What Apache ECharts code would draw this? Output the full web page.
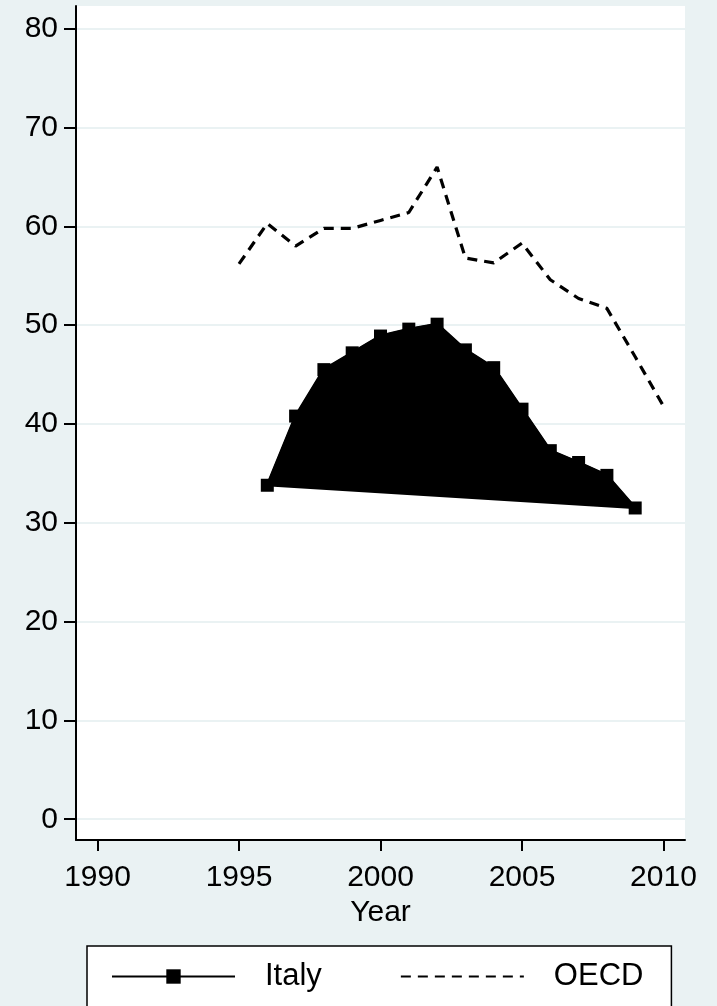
<!DOCTYPE html>
<html>
<head>
<meta charset="utf-8">
<script src="https://cdn.jsdelivr.net/npm/echarts@6/dist/echarts.min.js"></script>
<style>
  html, body { margin: 0; padding: 0; background: #eaf2f3; }
  #chart { width: 717px; height: 1006px; }
</style>
</head>
<body>
<div id="chart"></div>
<script>
var italyYears = [1996, 1997, 1998, 1999, 2000, 2001, 2002, 2003, 2004, 2005, 2006, 2007, 2008, 2009];
var italyValues = [33.8, 40.8, 45.5, 47.2, 48.9, 49.6, 50.1, 47.5, 45.7, 41.5, 37.3, 36.1, 34.8, 31.5];
var oecdYears = [1995, 1996, 1997, 1998, 1999, 2000, 2001, 2002, 2003, 2004, 2005, 2006, 2007, 2008, 2009, 2010];
var oecdValues = [56.2, 60.3, 58.0, 59.8, 59.8, 60.6, 61.4, 66.0, 56.8, 56.3, 58.3, 54.6, 52.7, 51.7, 46.8, 41.8];
var xTicks = [1990, 1995, 2000, 2005, 2010];
var yTicks = [0, 10, 20, 30, 40, 50, 60, 70, 80];

var italyPts = italyYears.map(function (y, i) { return [y, italyValues[i]]; });
var oecdPts = oecdYears.map(function (y, i) { return [y, oecdValues[i]]; });

var chart = echarts.init(document.getElementById('chart'));
var font = '"Liberation Sans", Arial, sans-serif';

var option = {
    backgroundColor: '#eaf2f3',
    animation: false,
    grid: {
        left: 76, right: 32, top: 6, bottom: 166,
        show: true, backgroundColor: '#ffffff', borderWidth: 0
    },
    xAxis: {
        type: 'value',
        min: 1989.24, max: 2010.76,
        name: 'Year',
        nameLocation: 'middle',
        nameGap: 55,
        nameTextStyle: { fontFamily: font, fontSize: 30, color: '#000' },
        axisLine: { onZero: false, lineStyle: { color: '#000', width: 2 } },
        axisTick: { customValues: xTicks, length: 11, lineStyle: { color: '#000', width: 2 } },
        axisLabel: {
            customValues: xTicks, margin: 23, fontFamily: font, fontSize: 30, color: '#000',
            formatter: function (v) { return String(v); }
        },
        splitLine: { show: false }
    },
    yAxis: {
        type: 'value',
        min: -2.1, max: 82.3,
        axisLine: { show: true, onZero: false, lineStyle: { color: '#000', width: 2 } },
        axisTick: { show: true, customValues: yTicks, length: 12, lineStyle: { color: '#000', width: 2 } },
        axisLabel: { customValues: yTicks, margin: 18, fontFamily: font, fontSize: 30, color: '#000' },
        splitLine: { show: true, lineStyle: { color: '#eaf2f3', width: 2 } }
    },
    legend: {
        left: 87, top: 946,
        orient: 'horizontal',
        backgroundColor: '#ffffff',
        borderColor: '#000', borderWidth: 1.5, borderRadius: 0,
        padding: [15, 28, 40, 24],
        itemWidth: 123, itemHeight: 18, itemGap: 78,
        textStyle: { fontFamily: font, fontSize: 31, color: '#000', padding: [0, 0, 0, 25] },
        data: [
            { name: 'Italy' },
            { name: 'OECD', itemStyle: { opacity: 0 } }
        ]
    },
    series: [
        {
            name: 'Italy area',
            type: 'custom',
            silent: true,
            data: italyPts,
            renderItem: function (params, api) {
                if (params.dataIndex !== 0) return null;
                var pts = italyPts.map(function (p) { return api.coord(p); });
                return {
                    type: 'polygon',
                    shape: { points: pts },
                    style: { fill: '#000', stroke: '#000', lineWidth: 2 }
                };
            },
            z: 2
        },
        {
            name: 'Italy',
            type: 'line',
            data: italyPts,
            symbol: 'rect',
            symbolSize: 13,
            itemStyle: { color: '#000' },
            lineStyle: { color: '#000', width: 3 },
            z: 3
        },
        {
            name: 'OECD',
            type: 'line',
            data: oecdPts,
            symbol: 'none',
            itemStyle: { color: '#000' },
            lineStyle: { color: '#000', width: 3.2, type: [10, 7] },
            z: 3
        }
    ]
};
chart.setOption(option);
</script>
</body>
</html>
